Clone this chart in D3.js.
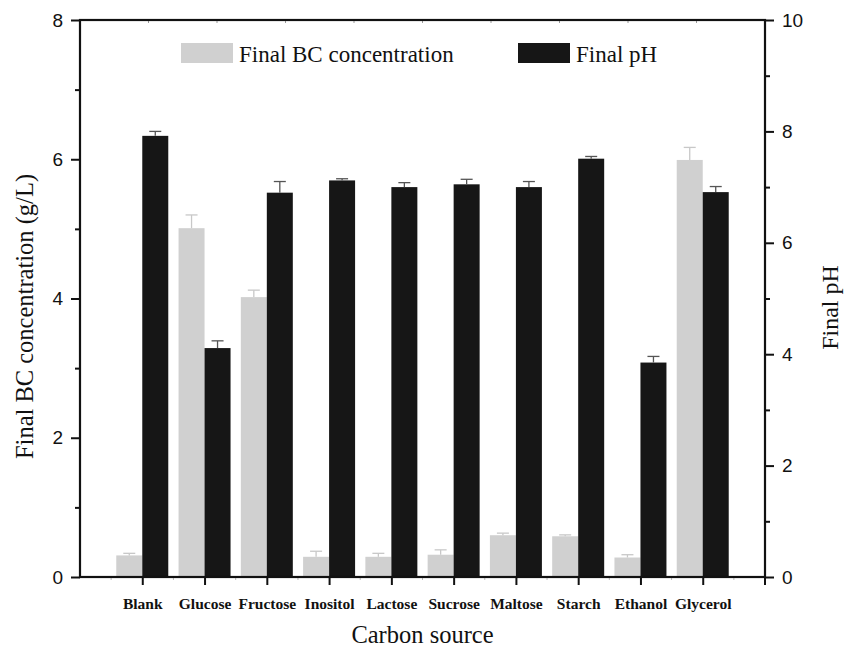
<!DOCTYPE html>
<html>
<head>
<meta charset="utf-8">
<script src="https://cdn.jsdelivr.net/npm/d3@7"></script>
<style>
  body { margin: 0; background: #fff; }
</style>
</head>
<body>
<div class="canvas"></div>
<script>
// data
const categories = ['Blank', 'Glucose', 'Fructose', 'Inositol', 'Lactose', 'Sucrose', 'Maltose', 'Starch', 'Ethanol', 'Glycerol'];
const bcValues = [0.31, 5.01, 4.02, 0.29, 0.29, 0.32, 0.60, 0.585, 0.28, 5.99];
const bcErrors = [0.03, 0.19, 0.10, 0.08, 0.05, 0.07, 0.03, 0.02, 0.04, 0.18];
const phValues = [7.92, 4.11, 6.90, 7.12, 7.00, 7.05, 7.00, 7.51, 3.85, 6.91];
const phErrors = [0.08, 0.13, 0.20, 0.03, 0.08, 0.09, 0.10, 0.04, 0.11, 0.10];
const leftTicks = [0, 2, 4, 6, 8];
const rightTicks = [0, 2, 4, 6, 8, 10];

const svgWidth = 853, svgHeight = 649;
const margin = {top: 20, right: 88, bottom: 72, left: 80};
const graphWidth = svgWidth - margin.left - margin.right;
const graphHeight = svgHeight - margin.top - margin.bottom;

const svg = d3.select('.canvas').append('svg')
    .attr('width', svgWidth)
    .attr('height', svgHeight);

const graph = svg.append('g')
    .attr('transform', `translate(${margin.left}, ${margin.top})`);

// scales
const x = d3.scaleLinear().domain([0, categories.length + 1]).range([0, graphWidth]);
const yBC = d3.scaleLinear().domain([0, 8]).range([graphHeight, 0]);
const yPH = d3.scaleLinear().domain([0, 10]).range([graphHeight, 0]);
const barW = 26;

const sans = 'Liberation Sans, Arial, sans-serif';
const serif = 'Liberation Serif, Times New Roman, serif';

// faint minor ticks on top and bottom
graph.append('g').selectAll('line')
    .data(d3.range(1, 10))
    .join('line')
    .attr('x1', d => d * graphWidth / 10).attr('x2', d => d * graphWidth / 10)
    .attr('y1', 0).attr('y2', 3)
    .attr('stroke', '#999').attr('stroke-width', 1);

graph.append('g').selectAll('line')
    .data(d3.range(0, categories.length + 1))
    .join('line')
    .attr('x1', d => x(d + 0.5)).attr('x2', d => x(d + 0.5))
    .attr('y1', graphHeight).attr('y2', graphHeight + 3)
    .attr('stroke', '#bbb').attr('stroke-width', 1);

// BC bars (left of category)
graph.append('g').selectAll('rect')
    .data(bcValues)
    .join('rect')
    .attr('x', (d, i) => x(i + 1) - barW)
    .attr('y', d => yBC(d))
    .attr('width', barW)
    .attr('height', d => graphHeight - yBC(d))
    .attr('fill', '#d0d0d0');

// pH bars (right of category)
graph.append('g').selectAll('rect')
    .data(phValues)
    .join('rect')
    .attr('x', (d, i) => x(i + 1))
    .attr('y', d => yPH(d))
    .attr('width', barW)
    .attr('height', d => graphHeight - yPH(d))
    .attr('fill', '#161616');

// error bars
const errBars = (vals, errs, scale, offset, color) => {
    const g = graph.append('g').attr('stroke', color).attr('stroke-width', 1.3);
    vals.forEach((v, i) => {
        const cx = x(i + 1) + offset;
        g.append('line').attr('x1', cx).attr('x2', cx)
            .attr('y1', scale(v)).attr('y2', scale(v + errs[i]));
        g.append('line').attr('x1', cx - 6).attr('x2', cx + 6)
            .attr('y1', scale(v + errs[i])).attr('y2', scale(v + errs[i]));
    });
};
errBars(bcValues, bcErrors, yBC, -barW / 2, '#c8c8c8');
errBars(phValues, phErrors, yPH, barW / 2, '#555');

// axes
const leftAxis = d3.axisLeft(yBC).tickValues(leftTicks).tickSize(9).tickPadding(8);
const leftMinor = d3.axisLeft(yBC).tickValues([1, 3, 5, 7]).tickSize(5).tickFormat('');
const rightAxis = d3.axisRight(yPH).tickValues(rightTicks).tickSize(9).tickPadding(8);
const rightMinor = d3.axisRight(yPH).tickValues([1, 3, 5, 7, 9]).tickSize(5).tickFormat('');
const bottomAxis = d3.axisBottom(x).tickValues(d3.range(1, categories.length + 1))
    .tickSize(8).tickPadding(13).tickFormat(d => categories[d - 1]);

const styleAxis = (g) => {
    g.select('.domain').remove();
    g.selectAll('line').attr('stroke', '#111').attr('stroke-width', 2);
};

graph.append('g').call(leftAxis).call(styleAxis)
    .selectAll('text').attr('font-family', sans).attr('font-size', 19).attr('fill', '#111');
graph.append('g').call(leftMinor).call(styleAxis);
graph.append('g').attr('transform', `translate(${graphWidth},0)`).call(rightAxis).call(styleAxis)
    .selectAll('text').attr('font-family', sans).attr('font-size', 19).attr('fill', '#111');
graph.append('g').attr('transform', `translate(${graphWidth},0)`).call(rightMinor).call(styleAxis);
graph.append('g').attr('transform', `translate(0,${graphHeight})`).call(bottomAxis).call(styleAxis)
    .selectAll('text').attr('font-family', serif).attr('font-weight', 'bold')
    .attr('font-size', 15.5).attr('fill', '#111');

// right end tick at bottom
graph.append('line')
    .attr('x1', x(categories.length + 1)).attr('x2', x(categories.length + 1))
    .attr('y1', graphHeight).attr('y2', graphHeight + 8)
    .attr('stroke', '#111').attr('stroke-width', 2);

// frame
graph.append('rect')
    .attr('x', 0).attr('y', 0)
    .attr('width', graphWidth).attr('height', graphHeight)
    .attr('fill', 'none').attr('stroke', '#111').attr('stroke-width', 2.2);

// axis titles
svg.append('text')
    .attr('transform', `translate(33, ${margin.top + graphHeight / 2 + 18}) rotate(-90)`)
    .attr('text-anchor', 'middle')
    .attr('font-family', serif).attr('font-size', 24.5).attr('fill', '#111')
    .text('Final BC concentration (g/L)');

svg.append('text')
    .attr('transform', `translate(838, ${margin.top + graphHeight / 2 + 9}) rotate(-90)`)
    .attr('text-anchor', 'middle')
    .attr('font-family', serif).attr('font-size', 24).attr('fill', '#111')
    .text('Final pH');

svg.append('text')
    .attr('x', margin.left + graphWidth / 2).attr('y', 643)
    .attr('text-anchor', 'middle')
    .attr('font-family', serif).attr('font-size', 24.5).attr('fill', '#111')
    .text('Carbon source');

// legend
const legend = [
    {label: 'Final BC concentration', color: '#d0d0d0', x: 181},
    {label: 'Final pH', color: '#161616', x: 518}
];
legend.forEach(l => {
    svg.append('rect').attr('x', l.x).attr('y', 43).attr('width', 52).attr('height', 20).attr('fill', l.color);
    svg.append('text').attr('x', l.x + 58).attr('y', 62)
        .attr('font-family', serif).attr('font-size', 23).attr('fill', '#111')
        .text(l.label);
});
</script>
</body>
</html>
